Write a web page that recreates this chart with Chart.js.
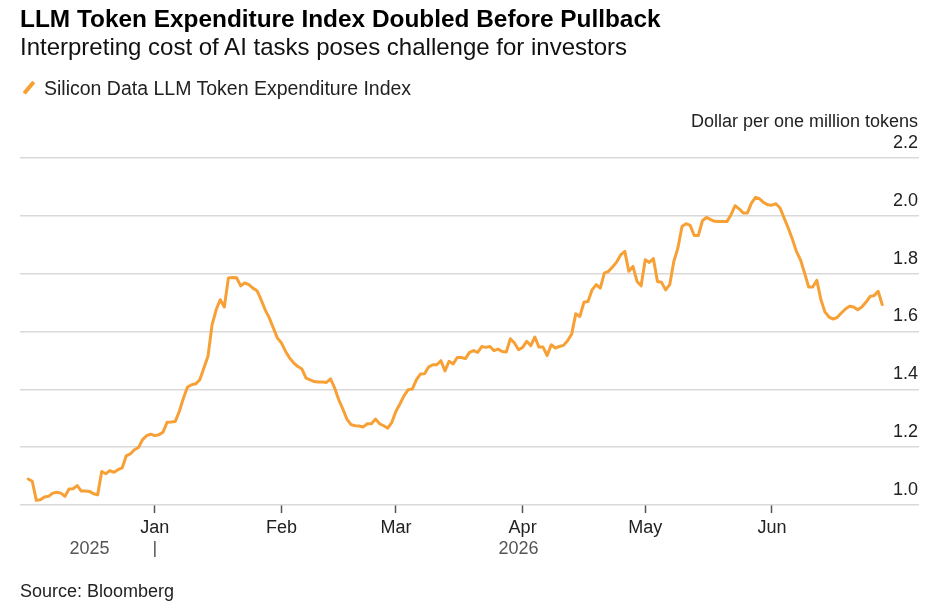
<!DOCTYPE html>
<html>
<head>
<meta charset="utf-8">
<title>LLM Token Expenditure Index</title>
<script src="https://cdn.jsdelivr.net/npm/chart.js@4.4.1/dist/chart.umd.min.js"></script>
<style>
  html, body { margin: 0; padding: 0; background: #fff; }
  body { font-family: "Liberation Sans", Arial, Helvetica, sans-serif; color: #111; }
  #wrap { position: relative; width: 942px; height: 609px; overflow: hidden; }
  #myChart { position: absolute; left: 0; top: 0; }
  .txt { position: absolute; left: 20px; white-space: nowrap; }
  #title { top: 5px; font-size: 24.4px; line-height: 28px; font-weight: bold; color: #000; }
  #subtitle { top: 33px; font-size: 24px; line-height: 28px; color: #111; }
  #legend { top: 77px; left: 44px; font-size: 19.5px; line-height: 22px; color: #222; }
  #legend-mark { position: absolute; left: 27px; top: 80px; width: 3.5px; height: 15px;
    background: #f7a035; border-radius: 1px; transform: rotate(40deg); }
  #source { top: 580px; font-size: 18px; line-height: 22px; color: #222; }
</style>
</head>
<body>
<div id="wrap">
  <canvas id="myChart" width="942" height="609"></canvas>
  <div class="txt" id="title">LLM Token Expenditure Index Doubled Before Pullback</div>
  <div class="txt" id="subtitle">Interpreting cost of AI tasks poses challenge for investors</div>
  <span id="legend-mark"></span>
  <div class="txt" id="legend">Silicon Data LLM Token Expenditure Index</div>
  <div class="txt" id="source">Source: Bloomberg</div>
</div>
<script>
// daily readings, first one on startDate
const startDate = "2025-12-01";
const indexValues = [
  1.090, 1.082, 1.016, 1.018, 1.028, 1.030, 1.041, 1.044, 1.041, 1.030,
  1.055, 1.056, 1.067, 1.048, 1.048, 1.047, 1.039, 1.035, 1.116, 1.108,
  1.119, 1.113, 1.122, 1.128, 1.170, 1.177, 1.191, 1.199, 1.226, 1.240,
  1.245, 1.240, 1.243, 1.252, 1.286, 1.287, 1.289, 1.324, 1.370, 1.408,
  1.416, 1.419, 1.433, 1.474, 1.514, 1.623, 1.675, 1.710, 1.685, 1.785,
  1.787, 1.786, 1.758, 1.768, 1.762, 1.750, 1.741, 1.710, 1.675, 1.647,
  1.612, 1.577, 1.560, 1.531, 1.508, 1.491, 1.479, 1.470, 1.439, 1.433,
  1.427, 1.425, 1.425, 1.424, 1.436, 1.405, 1.364, 1.332, 1.297, 1.278,
  1.274, 1.273, 1.270, 1.281, 1.281, 1.297, 1.281, 1.274, 1.266, 1.286,
  1.324, 1.350, 1.378, 1.399, 1.401, 1.433, 1.453, 1.454, 1.477, 1.485,
  1.485, 1.499, 1.464, 1.497, 1.488, 1.510, 1.510, 1.506, 1.528, 1.534,
  1.528, 1.548, 1.545, 1.548, 1.534, 1.539, 1.531, 1.529, 1.575, 1.560,
  1.537, 1.545, 1.566, 1.551, 1.581, 1.546, 1.546, 1.517, 1.554, 1.543,
  1.548, 1.552, 1.568, 1.591, 1.661, 1.652, 1.701, 1.704, 1.744, 1.762,
  1.750, 1.802, 1.808, 1.823, 1.840, 1.865, 1.877, 1.808, 1.825, 1.773,
  1.758, 1.848, 1.839, 1.852, 1.773, 1.770, 1.744, 1.762, 1.842, 1.889,
  1.963, 1.973, 1.967, 1.932, 1.932, 1.983, 1.995, 1.987, 1.981, 1.980,
  1.980, 1.980, 2.004, 2.035, 2.024, 2.010, 2.010, 2.044, 2.064, 2.059,
  2.046, 2.038, 2.037, 2.042, 2.027, 1.992, 1.958, 1.920, 1.877, 1.848,
  1.802, 1.754, 1.754, 1.777, 1.710, 1.667, 1.650, 1.643, 1.649, 1.664,
  1.678, 1.687, 1.685, 1.675, 1.685, 1.701, 1.721, 1.724, 1.739, 1.693
];

const monthDates = ["2026-01-01", "2026-02-01", "2026-03-01", "2026-04-01", "2026-05-01", "2026-06-01"];
const monthLabels = ["Jan", "Feb", "Mar", "Apr", "May", "Jun"];
const yearLabels = ["2025", "2026"];
const yTickValues = [1.0, 1.2, 1.4, 1.6, 1.8, 2.0, 2.2];
const yAxisTitle = "Dollar per one million tokens";

const lineColor = "#f7a035";
const font = '"Liberation Sans", Arial, Helvetica, sans-serif';

// days counted from 1 Jan 2026
const DAY = 86400000;
const origin = Date.UTC(2026, 0, 1);
function dayOf(iso) {
	const [y, m, d] = iso.split("-").map(Number);
	return (Date.UTC(y, m - 1, d) - origin) / DAY;
}
const firstDay = dayOf(startDate);
const points = indexValues.map((v, i) => ({ x: firstDay + i, y: v }));
const monthDays = monthDates.map(dayOf);

// y labels sit above their gridlines, plus axis title and year row
const overlay = {
	id: "overlay",
	afterDraw(chart) {
		const { ctx, chartArea, scales } = chart;
		const xs = scales.x;
		const ys = scales.y;
		ctx.save();
		ctx.fillStyle = "#222";
		ctx.textAlign = "right";
		ctx.textBaseline = "middle";
		ctx.font = "18px " + font;
		yTickValues.forEach((v) => {
			ctx.fillText(v.toFixed(1), chartArea.right - 1, ys.getPixelForValue(v) - 15);
		});
		ctx.fillText(yAxisTitle, chartArea.right - 1, chartArea.top - 36);

		// year row: each year centred over its stretch of data
		const lastDay = firstDay + indexValues.length - 1;
		const xFirst = xs.getPixelForValue(firstDay);
		const xJan = xs.getPixelForValue(monthDays[0]);
		const xLast = xs.getPixelForValue(lastDay);
		const yRow = chartArea.bottom + 44;
		ctx.fillStyle = "#555";
		ctx.textAlign = "center";
		ctx.fillText(yearLabels[0], (xFirst + xJan) / 2 - 2, yRow);
		ctx.fillText(yearLabels[1], (xJan + xLast) / 2, yRow);
		ctx.strokeStyle = "#555";
		ctx.lineWidth = 1.5;
		ctx.beginPath();
		ctx.moveTo(xJan, yRow - 8);
		ctx.lineTo(xJan, yRow + 8);
		ctx.stroke();
		ctx.restore();
	},
};

const ctx = document.getElementById("myChart");

new Chart(ctx, {
	type: "line",
	data: {
		datasets: [
			{
				label: "Silicon Data LLM Token Expenditure Index",
				data: points,
				borderColor: lineColor,
				borderWidth: 3,
				borderJoinStyle: "round",
				borderCapStyle: "round",
				pointRadius: 0,
				tension: 0,
				fill: false,
			},
		],
	},
	options: {
		responsive: false,
		animation: false,
		layout: { padding: { top: 158, left: 20, right: 23, bottom: 0 } },
		plugins: {
			legend: { display: false },
			title: { display: false },
			tooltip: { enabled: false },
		},
		scales: {
			x: {
				type: "linear",
				min: -33,
				max: 187,
				border: { display: false },
				grid: {
					drawOnChartArea: false,
					drawTicks: true,
					tickLength: 8,
					tickColor: "#555",
					tickWidth: 1.5,
				},
				afterBuildTicks(scale) {
					scale.ticks = monthDays.map((d) => ({ value: d }));
				},
				afterFit(scale) {
					scale.height = 104;
				},
				ticks: {
					autoSkip: false,
					maxRotation: 0,
					padding: 4,
					color: "#222",
					font: { family: font, size: 18 },
					callback: (value, index) => monthLabels[index],
				},
			},
			y: {
				position: "right",
				min: 1.0,
				max: 2.2,
				border: { display: false },
				grid: { color: "#d9d9d9", lineWidth: 1.5, drawTicks: false },
				afterBuildTicks(scale) {
					scale.ticks = yTickValues.map((v) => ({ value: v }));
				},
				afterFit(scale) {
					scale.width = 0;
				},
				ticks: { display: false },
			},
		},
	},
	plugins: [overlay],
});
</script>
</body>
</html>
